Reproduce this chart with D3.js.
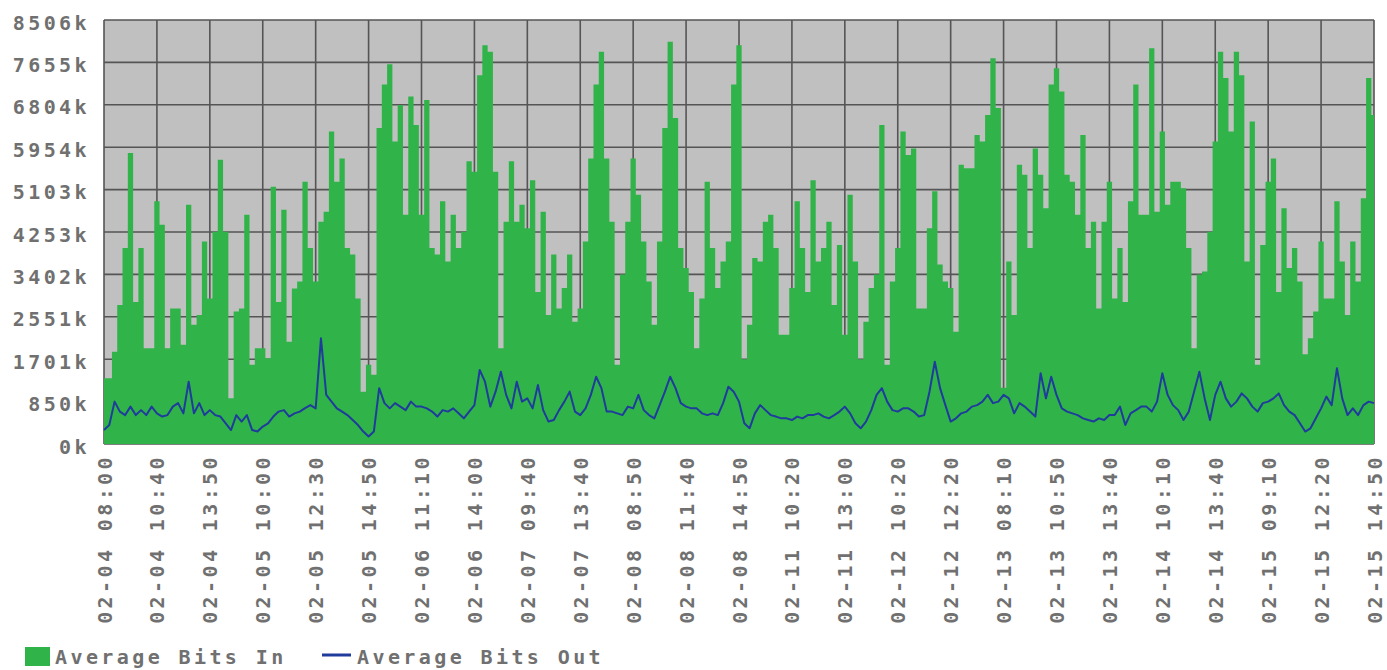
<!DOCTYPE html>
<html>
<head>
<meta charset="utf-8">
<script src="https://cdn.jsdelivr.net/npm/d3@7"></script>
<style>
body { margin: 0; background: #fff; }
text { font-family: "DejaVu Sans Mono", monospace; font-weight: bold; font-size: 20px; fill: #707070; letter-spacing: 3.4px; }
</style>
</head>
<body>
<div id="chart"></div>
<script>
// x labels, one every 10 samples
var xLabels = ["02-04 08:00", "02-04 10:40", "02-04 13:50", "02-05 10:00", "02-05 12:30",
    "02-05 14:50", "02-06 11:10", "02-06 14:00", "02-07 09:40", "02-07 13:40",
    "02-08 08:50", "02-08 11:40", "02-08 14:50", "02-11 10:20", "02-11 13:00",
    "02-12 10:20", "02-12 12:20", "02-13 08:10", "02-13 10:50", "02-13 13:40",
    "02-14 10:10", "02-14 13:40", "02-15 09:10", "02-15 12:20", "02-15 14:50"];

var yMax = 8506;
var yTickLabels = ["0k", "850k", "1701k", "2551k", "3402k", "4253k", "5103k", "5954k", "6804k", "7655k", "8506k"];

// values in k
var bitsIn = [1320, 1320, 1850, 2790, 3930, 5840, 2850, 3930, 1920, 1920,
    4870, 4400, 1920, 2720, 2720, 1990, 4800, 2390, 2590, 4060,
    2920, 4260, 5700, 4260, 920, 2660, 2720, 4600, 1590, 1920,
    1920, 1720, 5160, 2850, 4700, 2050, 3120, 3260, 5260, 3930,
    3260, 4460, 4660, 6270, 5260, 5730, 3930, 3800, 2920, 1050,
    1590, 1390, 6340, 7210, 7620, 6070, 6800, 4600, 6970, 6400,
    4600, 6900, 3930, 3800, 4870, 3660, 4600, 3930, 4260, 5670,
    5460, 7400, 8000, 7870, 5460, 1920, 4460, 5670, 4460, 4800,
    4330, 5290, 3050, 4660, 2590, 3800, 2720, 3130, 3800, 2450,
    2720, 4060, 5730, 7210, 7870, 5730, 4460, 1590, 3400, 4460,
    5730, 5000, 4060, 3260, 2390, 4060, 6340, 8070, 6540, 3930,
    3530, 3050, 1920, 2920, 5260, 3930, 3130, 3660, 4060, 7210,
    8000, 1700, 2390, 3730, 3660, 4460, 4600, 3930, 2190, 2190,
    3130, 4870, 3930, 3050, 5290, 3660, 3930, 4460, 2790, 3990,
    2190, 5000, 3660, 1700, 2450, 3130, 3400, 6400, 1590, 3260,
    3930, 6270, 5800, 5930, 2720, 2720, 4330, 5070, 3600, 3260,
    3130, 2250, 5600, 5530, 5530, 6200, 6070, 6600, 7740, 6740,
    1130, 3660, 2590, 5600, 5400, 3930, 5930, 5400, 4730, 7210,
    7540, 7070, 5400, 5260, 4600, 6200, 3930, 4460, 2720, 4460,
    5260, 2920, 3930, 2850, 4870, 7210, 4600, 4600, 7940, 4660,
    6270, 4800, 5260, 5260, 5130, 3930, 1920, 3400, 3460, 4260,
    6070, 7870, 7340, 6270, 7870, 7400, 3660, 6470, 1590, 3990,
    5260, 5730, 3050, 4730, 3530, 3930, 3260, 1800, 2120, 2660,
    4060, 2920, 2920, 4870, 3660, 2590, 4060, 3260, 4930, 7340,
    6600];

var bitsOut = [280, 380, 850, 650, 580, 750, 580, 680, 580, 750,
    615, 550, 580, 750, 820, 615, 1250, 615, 820, 580,
    680, 580, 550, 415, 280, 580, 450, 580, 280, 250,
    350, 415, 550, 650, 680, 550, 615, 650, 720, 780,
    715, 2120, 985, 850, 715, 650, 580, 480, 380, 250,
    150, 250, 1120, 820, 715, 820, 750, 680, 850, 750,
    750, 715, 650, 550, 680, 650, 715, 615, 515, 650,
    780, 1485, 1250, 750, 1050, 1450, 985, 715, 1250, 850,
    915, 715, 1185, 680, 450, 480, 680, 850, 1050, 650,
    580, 715, 985, 1350, 1120, 650, 650, 615, 580, 750,
    715, 985, 680, 580, 515, 780, 1050, 1350, 1120, 820,
    750, 715, 715, 615, 580, 615, 580, 820, 1150, 1050,
    850, 415, 315, 615, 780, 680, 580, 550, 515, 515,
    480, 550, 515, 580, 580, 615, 550, 515, 580, 650,
    750, 615, 415, 315, 450, 680, 985, 1120, 850, 680,
    650, 715, 715, 650, 550, 580, 1050, 1650, 1120, 780,
    450, 515, 615, 650, 750, 780, 850, 985, 820, 850,
    985, 915, 615, 820, 750, 650, 550, 1420, 915, 1350,
    985, 715, 650, 615, 580, 515, 480, 450, 515, 480,
    580, 580, 750, 380, 615, 680, 750, 750, 650, 850,
    1420, 985, 780, 680, 480, 650, 1050, 1450, 915, 480,
    985, 1250, 915, 750, 850, 1015, 915, 750, 650, 820,
    850, 915, 1015, 780, 650, 580, 415, 250, 315, 515,
    715, 950, 780, 1520, 915, 580, 715, 580, 780, 850,
    820];

var inColor = "#30b44a", outColor = "#1f3c9c";

var margin = { top: 20, right: 13, bottom: 226, left: 104 },
    width = 1387 - margin.left - margin.right,
    height = 670 - margin.top - margin.bottom;

var svg = d3.select("#chart")
    .append("svg")
    .attr("width", 1387)
    .attr("height", 670);

var g = svg.append("g")
    .attr("transform", "translate(" + margin.left + "," + margin.top + ")");

var x = d3.scaleLinear()
    .domain([0, bitsIn.length - 1])
    .range([0, width]);

var y = d3.scaleLinear()
    .domain([0, yMax])
    .range([height, 0]);

var yTicks = yTickLabels.map(function (d, i) { return yMax * i / 10; });
var xTicks = xLabels.map(function (d, i) { return i * 10; });

// plot background
g.append("rect")
    .attr("width", width)
    .attr("height", height)
    .attr("fill", "#c0c0c0");

// grid
g.append("g")
    .selectAll("line")
    .data(yTicks)
    .enter()
    .append("line")
    .attr("x1", 0).attr("x2", width)
    .attr("y1", function (d) { return y(d); })
    .attr("y2", function (d) { return y(d); })
    .attr("stroke", "#555")
    .attr("stroke-width", 1.6);

g.append("g")
    .selectAll("line")
    .data(xTicks)
    .enter()
    .append("line")
    .attr("y1", 0).attr("y2", height)
    .attr("x1", function (d) { return x(d); })
    .attr("x2", function (d) { return x(d); })
    .attr("stroke", "#555")
    .attr("stroke-width", 1.6);

// bits in (area)
var area = d3.area()
    .x(function (d, i) { return x(i); })
    .y0(height)
    .y1(function (d) { return y(d); })
    .curve(d3.curveStep);

g.append("path")
    .datum(bitsIn)
    .attr("fill", inColor)
    .attr("d", area);

// bits out (line)
var line = d3.line()
    .x(function (d, i) { return x(i); })
    .y(function (d) { return y(d); });

g.append("path")
    .datum(bitsOut)
    .attr("fill", "none")
    .attr("stroke", outColor)
    .attr("stroke-width", 2)
    .attr("stroke-linejoin", "round")
    .attr("d", line);

// y axis
var yAxis = g.append("g")
    .call(d3.axisLeft(y)
        .tickValues(yTicks)
        .tickSize(0)
        .tickPadding(14)
        .tickFormat(function (d, i) { return yTickLabels[i]; }));
yAxis.select(".domain").remove();
yAxis.selectAll("text").attr("dy", "0.45em");

// x axis
var xAxis = g.append("g")
    .attr("transform", "translate(0," + height + ")")
    .call(d3.axisBottom(x)
        .tickValues(xTicks)
        .tickSize(0)
        .tickFormat(function (d, i) { return xLabels[i]; }));
xAxis.select(".domain").remove();
xAxis.selectAll("text")
    .attr("x", -10)
    .attr("y", 0)
    .attr("dy", "0.35em")
    .attr("transform", "rotate(-90)")
    .style("text-anchor", "end");

// legend
var legend = svg.append("g");
legend.append("rect")
    .attr("x", 25).attr("y", 647)
    .attr("width", 25).attr("height", 19)
    .attr("fill", inColor);
legend.append("text")
    .attr("x", 55).attr("y", 657)
    .attr("dy", "0.35em")
    .text("Average Bits In");
legend.append("line")
    .attr("x1", 322).attr("x2", 351)
    .attr("y1", 655).attr("y2", 655)
    .attr("stroke", outColor)
    .attr("stroke-width", 3);
legend.append("text")
    .attr("x", 357).attr("y", 657)
    .attr("dy", "0.35em")
    .text("Average Bits Out");
</script>
</body>
</html>
